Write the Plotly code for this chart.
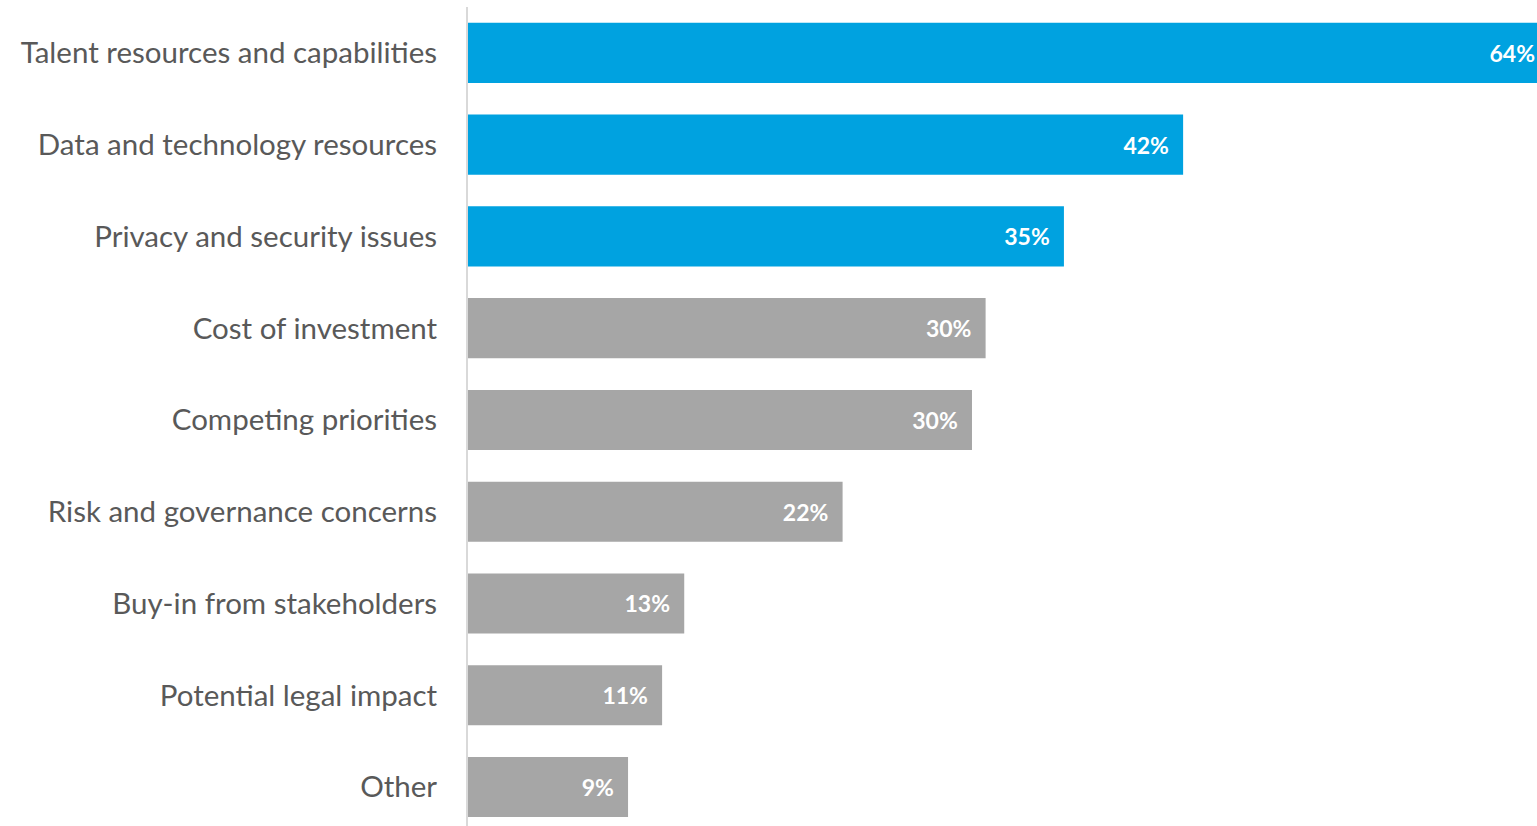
import plotly.graph_objects as go

categories = [
    "Talent resources and capabilities",
    "Data and technology resources",
    "Privacy and security issues",
    "Cost of investment",
    "Competing priorities",
    "Risk and governance concerns",
    "Buy-in from stakeholders",
    "Potential legal impact",
    "Other",
]
values = [63.5, 42, 35, 30.4, 29.6, 22, 12.7, 11.4, 9.4]
highlight = [True, True, True, False, False, False, False, False, False]

BLUE = "#00a2e0"
GRAY = "#a6a6a6"
colors = [BLUE if h else GRAY for h in highlight]

# non-breaking spaces keep the value labels inset from the bar ends
PAD = "\u00a0\u00a0"

fig = go.Figure(
    go.Bar(
        x=values,
        y=categories,
        orientation="h",
        marker=dict(color=colors, line=dict(width=0)),
        width=0.655,
        texttemplate="%{x:.0f}%" + PAD,
        textposition="inside",
        insidetextanchor="end",
        textangle=0,
        insidetextfont=dict(family="Lato", size=23, color="white", weight="bold"),
        cliponaxis=False,
        hoverinfo="skip",
    )
)

# the canvas runs slightly past the window, so the longest bar is cut at the right edge
fig.update_layout(
    width=1556,
    height=826,
    margin=dict(l=468, r=0, t=7, b=0),
    paper_bgcolor="white",
    plot_bgcolor="white",
    showlegend=False,
    uniformtext=dict(mode=False),
)
fig.update_xaxes(
    range=[0, 63.9],
    showgrid=False,
    zeroline=False,
    showticklabels=False,
    showline=False,
    fixedrange=True,
)
fig.update_yaxes(
    range=[8.425, -0.5],
    showgrid=False,
    zeroline=False,
    showline=True,
    linecolor="#d9d9d9",
    linewidth=2,
    ticks="",
    ticklabelstandoff=23,
    tickfont=dict(family="Lato", size=29.5, color="#595959"),
    fixedrange=True,
)

fig.write_html(
    "out.html",
    config={"displayModeBar": False},
    post_script=(
        "document.documentElement.style.overflow='hidden';"
        "document.body.style.overflow='hidden';"
    ),
)
